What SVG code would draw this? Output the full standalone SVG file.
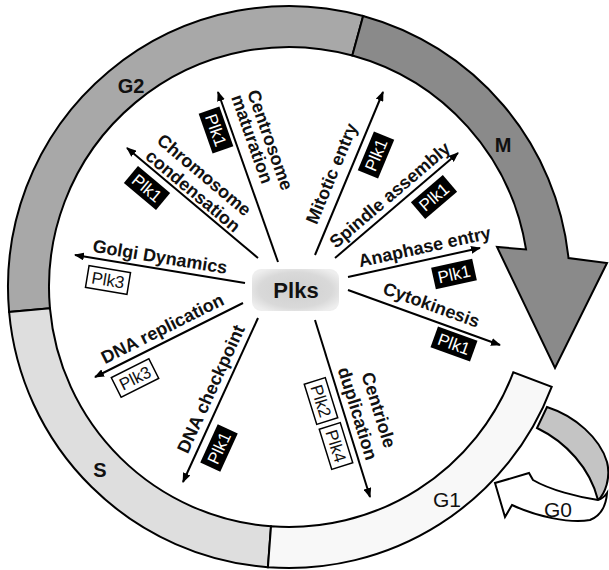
<svg xmlns="http://www.w3.org/2000/svg" width="609" height="570" viewBox="0 0 609 570">
<style>
.band{stroke:#000;stroke-width:2;stroke-linejoin:miter}
.lbl{font-family:"Liberation Sans",Arial,sans-serif;font-weight:bold;font-size:18px;text-anchor:middle;fill:#111}
.ph{font-family:"Liberation Sans",Arial,sans-serif;font-weight:bold;font-size:20px;text-anchor:middle;fill:#111}
.ph2{font-family:"Liberation Sans",Arial,sans-serif;font-size:21px;text-anchor:middle;fill:#111}
.kb{fill:#000}
.wb{fill:#fff;stroke:#000;stroke-width:1.5}
.kt{font-family:"Liberation Sans",Arial,sans-serif;font-size:17px;text-anchor:middle;fill:#fff}
.wt{font-family:"Liberation Sans",Arial,sans-serif;font-size:17px;text-anchor:middle;fill:#111}
#connectors line{stroke:#000;stroke-width:2;marker-end:url(#ah)}
</style>
<defs>
<marker id="ah" viewBox="0 0 10 8" refX="9" refY="4" markerWidth="10" markerHeight="8" markerUnits="userSpaceOnUse" orient="auto"><path d="M0,0 L10,4 L0,8 Z" fill="#000"/></marker>
<radialGradient id="pg" cx="0.5" cy="0.5" r="0.6"><stop offset="0" stop-color="#cfcfcf"/><stop offset="0.7" stop-color="#d9d9d9"/><stop offset="1" stop-color="#eeeeee"/></radialGradient>
</defs>
<rect width="609" height="570" fill="#fff"/>

<g id="cycle">
<g id="G0">
<path class="band" fill="#c4c4c4" d="M547,407 C575,416 600,438 607,462 C611,478 605,494 598,500 C590,468 566,442 537,428 Z"/>
<path class="band" fill="#fff" d="M598,500 C578,497 550,490 533,480 L529,473 L495,483 L505,517 L512,505 C535,516 570,524 590,520 C600,516 606,507 607,493 C605,496 601,499 598,500 Z"/>
<text class="ph2" x="558" y="517">G0</text>
</g>
<g id="G2">
<path class="band" fill="#a8a8a8" d="M9.11,311.98 A281,281 0 0 1 363.15,15.96 L352.33,55.51 A240,240 0 0 0 49.95,308.33 Z"/>
<text class="ph" x="131" y="93">G2</text>
</g>
<g id="S">
<path class="band" fill="#dedede" d="M267.93,567.21 A281,281 0 0 1 9.11,311.98 L49.95,308.33 A240,240 0 0 0 271,526.33 Z"/>
<text class="ph" x="100" y="477">S</text>
</g>
<g id="G1">
<path class="band" fill="#f8f8f8" d="M551.69,386.79 A281,281 0 0 1 267.93,567.21 L271,526.33 A240,240 0 0 0 513.36,372.23 Z"/>
<text class="ph2" x="447" y="507">G1</text>
</g>
<g id="M">
<path class="band" fill="#8a8a8a" d="M363.15,15.96 A281,281 0 0 1 568.5,258.1 L607,263 L555,368 L497,247 L526.05,249.46 A240,240 0 0 0 352.33,55.51 Z"/>
<text class="ph" x="503" y="152">M</text>
</g>
</g>

<g id="connectors">
<line x1="278" y1="262" x2="218" y2="92"/>
<line x1="258" y1="258" x2="127" y2="148"/>
<line x1="245" y1="283" x2="75" y2="255"/>
<line x1="243" y1="303" x2="95" y2="377"/>
<line x1="258" y1="318" x2="183" y2="482"/>
<line x1="315" y1="320" x2="370" y2="497"/>
<line x1="315" y1="255" x2="383" y2="92"/>
<line x1="335" y1="258" x2="458" y2="153"/>
<line x1="348" y1="277" x2="480" y2="248"/>
<line x1="348" y1="290" x2="500" y2="345"/>
</g>

<g id="plks">
<rect x="252" y="269" width="87" height="42" rx="9" fill="url(#pg)"/>
<text x="296" y="298" font-family="'Liberation Sans',Arial,sans-serif" font-weight="bold" font-size="22" text-anchor="middle" fill="#111">Plks</text>
</g>

<g id="centrosome-maturation">
<text class="lbl" transform="translate(270,140) rotate(70.6)" y="6">Centrosome</text>
<text class="lbl" transform="translate(252,139) rotate(70.6)" y="6">maturation</text>
<g transform="translate(216,130) rotate(70.6)"><rect class="kb" x="-21" y="-11" width="42" height="22"/><text class="kt" y="6">Plk1</text></g>
</g>

<g id="chromosome-condensation">
<text class="lbl" transform="translate(204,175) rotate(40)" y="6">Chromosome</text>
<text class="lbl" transform="translate(193,191) rotate(40)" y="6">condensation</text>
<g transform="translate(147,188) rotate(40)"><rect class="kb" x="-21" y="-11" width="42" height="22"/><text class="kt" y="6">Plk1</text></g>
</g>

<g id="golgi-dynamics">
<text class="lbl" transform="translate(160,257) rotate(9.35)" y="6">Golgi Dynamics</text>
<g transform="translate(108,280) rotate(9.35)"><rect class="wb" x="-21" y="-11" width="42" height="22"/><text class="wt" y="6">Plk3</text></g>
</g>

<g id="dna-replication">
<text class="lbl" transform="translate(162.5,328.7) rotate(-26.6)" y="6">DNA replication</text>
<g transform="translate(135,378) rotate(-26.6)"><rect class="wb" x="-21" y="-11" width="42" height="22"/><text class="wt" y="6">Plk3</text></g>
</g>

<g id="dna-checkpoint">
<text class="lbl" transform="translate(211,389) rotate(-65.4)" y="6">DNA checkpoint</text>
<g transform="translate(219,448) rotate(-65.4)"><rect class="kb" x="-21" y="-11" width="42" height="22"/><text class="kt" y="6">Plk1</text></g>
</g>

<g id="centriole-duplication">
<text class="lbl" transform="translate(378.7,410) rotate(72.7)" y="6">Centriole</text>
<text class="lbl" transform="translate(357.6,413.6) rotate(72.7)" y="6">duplication</text>
<g transform="translate(321,401) rotate(72.7)"><rect class="wb" x="-21" y="-11" width="42" height="22"/><text class="wt" y="6">Plk2</text></g>
<g transform="translate(336,446) rotate(72.7)"><rect class="wb" x="-21" y="-11" width="42" height="22"/><text class="wt" y="6">Plk4</text></g>
</g>

<g id="mitotic-entry">
<text class="lbl" transform="translate(331.7,173.5) rotate(-67.4)" y="6">Mitotic entry</text>
<g transform="translate(376,155) rotate(-67.4)"><rect class="kb" x="-21" y="-11" width="42" height="22"/><text class="kt" y="6">Plk1</text></g>
</g>

<g id="spindle-assembly">
<text class="lbl" transform="translate(390,195) rotate(-40.5)" y="6">Spindle assembly</text>
<g transform="translate(434,197) rotate(-40.5)"><rect class="kb" x="-21" y="-11" width="42" height="22"/><text class="kt" y="6">Plk1</text></g>
</g>

<g id="anaphase-entry">
<text class="lbl" transform="translate(424.6,246.9) rotate(-12.4)" y="6">Anaphase entry</text>
<g transform="translate(454,274) rotate(-12.4)"><rect class="kb" x="-21" y="-11" width="42" height="22"/><text class="kt" y="6">Plk1</text></g>
</g>

<g id="cytokinesis">
<text class="lbl" transform="translate(431.4,305) rotate(19.9)" y="6">Cytokinesis</text>
<g transform="translate(454,344) rotate(19.9)"><rect class="kb" x="-21" y="-11" width="42" height="22"/><text class="kt" y="6">Plk1</text></g>
</g>
</svg>
